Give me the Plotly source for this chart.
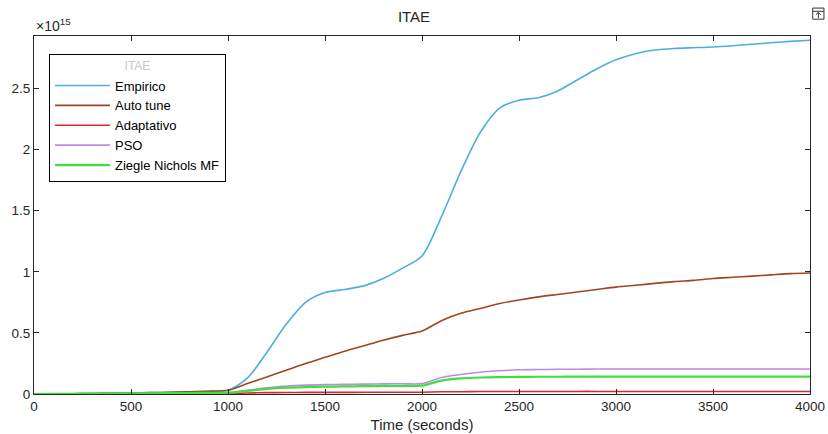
import plotly.graph_objects as go

time_s = [0, 100, 200, 300, 400, 500, 600, 700, 800, 900, 1000,
          1100, 1200, 1300, 1400, 1500, 1600, 1700, 1800, 1900, 2000,
          2100, 2200, 2300, 2400, 2500, 2600, 2700, 2800, 2900, 3000,
          3100, 3200, 3300, 3400, 3500, 3600, 3700, 3800, 3900, 4000]

empirico = [0, 0.001, 0.002, 0.004, 0.006, 0.008, 0.011, 0.014, 0.018, 0.023, 0.03,
            0.13, 0.34, 0.57, 0.75, 0.83, 0.855, 0.885, 0.945, 1.03, 1.13,
            1.45, 1.82, 2.14, 2.34, 2.405, 2.425, 2.48, 2.57, 2.66, 2.735,
            2.785, 2.815, 2.828, 2.834, 2.84, 2.85, 2.862, 2.875, 2.886, 2.895]

auto_tune = [0, 0.001, 0.002, 0.004, 0.006, 0.008, 0.011, 0.014, 0.018, 0.023, 0.03,
             0.085, 0.14, 0.195, 0.25, 0.3, 0.35, 0.395, 0.44, 0.48, 0.515,
             0.6, 0.66, 0.7, 0.74, 0.77, 0.795, 0.815, 0.835, 0.855, 0.875,
             0.89, 0.905, 0.92, 0.93, 0.945, 0.955, 0.965, 0.975, 0.985, 0.99]

adaptativo = [0, 0.0, 0.0005, 0.0008, 0.001, 0.0015, 0.002, 0.002, 0.0025, 0.003, 0.003,
              0.008, 0.011, 0.012, 0.013, 0.013, 0.013, 0.014, 0.014, 0.014, 0.014,
              0.018, 0.019, 0.02, 0.02, 0.02, 0.02, 0.02, 0.021, 0.021, 0.021,
              0.021, 0.021, 0.021, 0.021, 0.021, 0.021, 0.021, 0.021, 0.021, 0.021]

pso = [0, 0.001, 0.002, 0.003, 0.004, 0.005, 0.006, 0.007, 0.008, 0.009, 0.01,
       0.03, 0.05, 0.065, 0.073, 0.077, 0.079, 0.081, 0.083, 0.084, 0.085,
       0.135, 0.16, 0.178, 0.19, 0.198, 0.2, 0.202, 0.203, 0.204, 0.204,
       0.205, 0.205, 0.205, 0.205, 0.205, 0.205, 0.205, 0.205, 0.205, 0.205]

ziegler = [0, 0.001, 0.002, 0.003, 0.004, 0.005, 0.006, 0.007, 0.008, 0.009, 0.01,
           0.025, 0.042, 0.052, 0.057, 0.06, 0.062, 0.064, 0.066, 0.067, 0.068,
           0.11, 0.128, 0.135, 0.138, 0.14, 0.141, 0.141, 0.142, 0.142, 0.142,
           0.142, 0.142, 0.142, 0.142, 0.142, 0.142, 0.142, 0.142, 0.142, 0.142]

scale = 1e15
series = [
    ("Empirico", empirico, "#4DAEE0", 1.6),
    ("Auto tune", auto_tune, "#A0451F", 1.6),
    ("Adaptativo", adaptativo, "#E0262B", 1.6),
    ("PSO", pso, "#C487E6", 1.6),
    ("Ziegle Nichols MF", ziegler, "#3EE03E", 2.2),
]

fig = go.Figure()
for name, vals, color, w in series:
    fig.add_trace(go.Scatter(x=time_s, y=[v * scale for v in vals], mode="lines",
                             name=name,
                             line=dict(color=color, width=w, shape="spline", smoothing=0.8)))

font = "Liberation Sans, Arial, sans-serif"
fig.update_layout(
    width=828, height=434,
    margin=dict(l=34, r=18, t=36, b=40, autoexpand=False),
    paper_bgcolor="white", plot_bgcolor="white",
    font=dict(family=font, size=13, color="#262626"),
    title=dict(text="ITAE", x=0.5, xanchor="center", y=1 - 17 / 434, yanchor="middle",
               font=dict(size=15, color="#262626")),
    showlegend=True,
    legend=dict(x=0.0193, y=0.95, xanchor="left", yanchor="top",
                bordercolor="#000000", borderwidth=1, bgcolor="white",
                font=dict(size=13, color="#000000"),
                title=dict(text="ITAE", side="top center", font=dict(size=12, color="#C8C8C8")),
                tracegroupgap=0, itemwidth=55),
    xaxis=dict(range=[0, 4000], tickvals=[0, 500, 1000, 1500, 2000, 2500, 3000, 3500, 4000],
               showgrid=False, zeroline=False, showline=True, linecolor="#262626", linewidth=1,
               mirror="ticks", ticks="inside", ticklen=5, tickcolor="#262626", automargin=False,
               tickfont=dict(size=13.5),
               title=dict(text="Time (seconds)", standoff=6, font=dict(size=15))),
    yaxis=dict(range=[0, 2.93e15], tickvals=[0, 0.5e15, 1e15, 1.5e15, 2e15, 2.5e15],
               ticktext=["0", "0.5", "1", "1.5", "2", "2.5"], automargin=False,
               tickfont=dict(size=13.5),
               showgrid=False, zeroline=False, showline=True, linecolor="#262626", linewidth=1,
               mirror="ticks", ticks="inside", ticklen=5, tickcolor="#262626"),
    annotations=[dict(text="×10<sup>15</sup>", x=0, y=1, xref="paper", yref="paper",
                      xanchor="left", yanchor="bottom", showarrow=False, yshift=0,
                      font=dict(size=14, color="#262626"))],
    shapes=[
        dict(type="rect", xref="paper", yref="paper", x0=1.0035, x1=1.018, y0=1.047, y1=1.078,
             line=dict(color="#333333", width=1), fillcolor="white"),
        dict(type="line", xref="paper", yref="paper", x0=1.0035, x1=1.018, y0=1.069, y1=1.069,
             line=dict(color="#333333", width=1)),
        dict(type="path", xref="paper", yref="paper",
             path="M 1.0108 1.050 L 1.0108 1.066 M 1.0075 1.059 L 1.0108 1.066 L 1.0141 1.059",
             line=dict(color="#333333", width=1)),
    ],
)

fig.write_html("out.html")
